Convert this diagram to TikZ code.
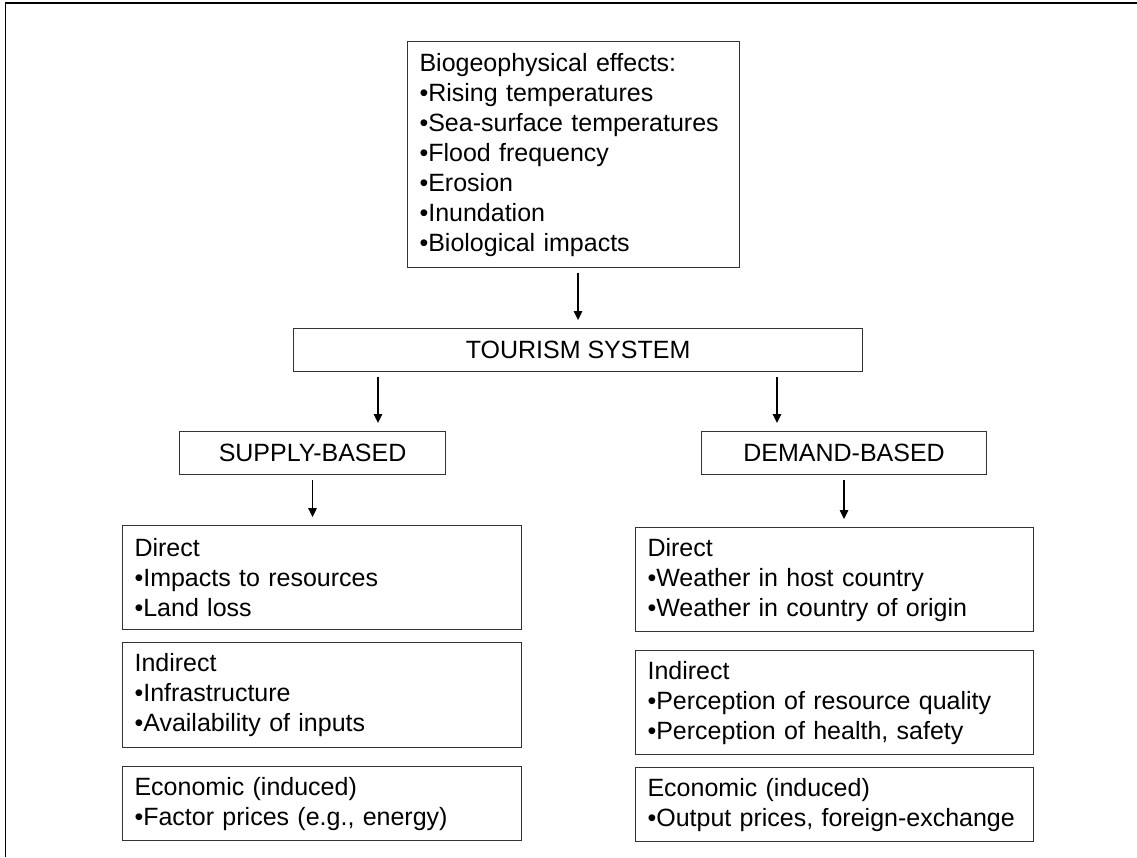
\documentclass[tikz,border=0pt]{standalone}
\usepackage{fontspec}
\setmainfont{Liberation Sans}
\usetikzlibrary{arrows.meta}
\tikzset{
  boxbase/.style={draw=black!80, line width=1.1pt, anchor=north west, inner ysep=0pt, inner xsep=12pt,
    font=\fontsize{25}{30}\selectfont},
  lbox/.style={boxbase, align=left},
  cbox/.style={boxbase, align=center, minimum height=43pt},
  arr/.style={line width=1.3pt, -{Triangle[length=9pt,width=8.5pt]}, shorten <=5pt, shorten >=8pt},
  frameline/.style={line width=#1}
}
\begin{document}
\begin{tikzpicture}[x=1pt,y=-1pt]
\useasboundingbox (0,0) rectangle (1137,857);
% outer frame (top and left edges)
\draw[frameline=2.3pt] (4.75,2.8) -- (1137,2.8);
\draw[frameline=1.5pt] (5.5,2) -- (5.5,857);

\node[lbox, text width=308pt, minimum width=332pt, minimum height=226pt] (bio) at (407,41)
 {Biogeophysical effects:\\•Rising temperatures\\•Sea-surface temperatures\\•Flood frequency\\•Erosion\\•Inundation\\•Biological impacts};

\node[cbox, minimum width=569pt] (ts) at (293,328) {TOURISM SYSTEM};
\node[cbox, minimum width=266pt] (sup) at (179,431) {SUPPLY-BASED};
\node[cbox, minimum width=285pt] (dem) at (701,431) {DEMAND-BASED};

\node[lbox, text width=375pt, minimum width=399pt, minimum height=104pt] (sd) at (122,525)
 {Direct\\•Impacts to resources\\•Land loss};
\node[lbox, text width=375pt, minimum width=399pt, minimum height=105pt] (si) at (122,642)
 {Indirect\\•Infrastructure\\•Availability of inputs};
\node[lbox, text width=375pt, minimum width=399pt, minimum height=74pt] (se) at (122,766)
 {Economic (induced)\\•Factor prices (e.g., energy)};

\node[lbox, text width=374pt, minimum width=398pt, minimum height=104pt] (dd) at (635,527)
 {Direct\\•Weather in host country\\•Weather in country of origin};
\node[lbox, text width=374pt, minimum width=398pt, minimum height=104pt] (di) at (635,650)
 {Indirect\\•Perception of resource quality\\•Perception of health, safety};
\node[lbox, text width=374pt, minimum width=398pt, minimum height=74pt] (de) at (635,767)
 {Economic (induced)\\•Output prices, foreign-exchange};

\coordinate (xl) at (378,0);
\coordinate (xr) at (777,0);

\draw[arr] (bio.south -| ts.north) -- (ts.north);
\draw[arr] (ts.south -| xl) -- (sup.north -| xl);
\draw[arr] (ts.south -| xr) -- (dem.north -| xr);
\draw[arr] (sup.south) -- (sup.south |- sd.north);
\draw[arr] (dem.south) -- (dem.south |- dd.north);
\end{tikzpicture}
\end{document}
